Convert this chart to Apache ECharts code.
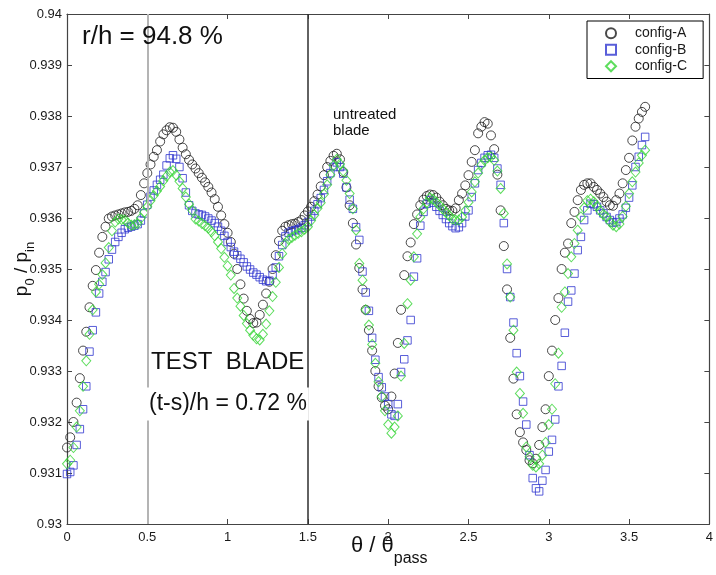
<!DOCTYPE html>
<html>
<head>
<meta charset="utf-8">
<script src="https://cdn.jsdelivr.net/npm/echarts@6/dist/echarts.min.js"></script>
<style>
  html, body { margin: 0; padding: 0; background: #fff; }
  #chart { width: 716px; height: 575px; }
</style>
</head>
<body>
<div id="chart"></div>
<script>
// Pitch-wise traverse positions (theta / theta_pass)
const theta = [
  0, 0.02, 0.04, 0.06, 0.08, 0.1, 0.12, 0.14, 0.16, 0.18,
  0.2, 0.22, 0.24, 0.26, 0.28, 0.3, 0.32, 0.34, 0.36, 0.38,
  0.4, 0.42, 0.44, 0.46, 0.48, 0.5, 0.52, 0.54, 0.56, 0.58,
  0.6, 0.62, 0.64, 0.66, 0.68, 0.7, 0.72, 0.74, 0.76, 0.78,
  0.8, 0.82, 0.84, 0.86, 0.88, 0.9, 0.92, 0.94, 0.96, 0.98,
  1, 1.02, 1.04, 1.06, 1.08, 1.1, 1.12, 1.14, 1.16, 1.18,
  1.2, 1.22, 1.24, 1.26, 1.28, 1.3, 1.32, 1.34, 1.36, 1.38,
  1.4, 1.42, 1.44, 1.46, 1.48, 1.5, 1.52, 1.54, 1.56, 1.58,
  1.6, 1.62, 1.64, 1.66, 1.68, 1.7, 1.72, 1.74, 1.76, 1.78,
  1.8, 1.82, 1.84, 1.86, 1.88, 1.9, 1.92, 1.94, 1.96, 1.98,
  2, 2.02, 2.04, 2.06, 2.08, 2.1, 2.12, 2.14, 2.16, 2.18,
  2.2, 2.22, 2.24, 2.26, 2.28, 2.3, 2.32, 2.34, 2.36, 2.38,
  2.4, 2.42, 2.44, 2.46, 2.48, 2.5, 2.52, 2.54, 2.56, 2.58,
  2.6, 2.62, 2.64, 2.66, 2.68, 2.7, 2.72, 2.74, 2.76, 2.78,
  2.8, 2.82, 2.84, 2.86, 2.88, 2.9, 2.92, 2.94, 2.96, 2.98,
  3, 3.02, 3.04, 3.06, 3.08, 3.1, 3.12, 3.14, 3.16, 3.18,
  3.2, 3.22, 3.24, 3.26, 3.28, 3.3, 3.32, 3.34, 3.36, 3.38,
  3.4, 3.42, 3.44, 3.46, 3.48, 3.5, 3.52, 3.54, 3.56, 3.58,
  3.6
];

// Total pressure ratio p0/pin, one value per traverse position
const configA = [
  0.93150, 0.93170, 0.93200, 0.93238, 0.93286, 0.93340, 0.93377, 0.93425, 0.93467, 0.93498,
  0.93532, 0.93563, 0.93583, 0.93599, 0.93603, 0.93605, 0.93607, 0.93609, 0.93611, 0.93612,
  0.93614, 0.93618, 0.93625, 0.93645, 0.93668, 0.93688, 0.93705, 0.93720, 0.93733, 0.93750,
  0.93764, 0.93772, 0.93778, 0.93777, 0.93769, 0.93754, 0.93738, 0.93725, 0.93714, 0.93705,
  0.93697, 0.93688, 0.93679, 0.93670, 0.93661, 0.93650, 0.93637, 0.93622, 0.93605, 0.93588,
  0.93571, 0.93553, 0.93530, 0.93500, 0.93470, 0.93442, 0.93418, 0.93402, 0.93394, 0.93395,
  0.93410, 0.93430, 0.93452, 0.93475, 0.93500, 0.93527, 0.93555, 0.93575, 0.93583, 0.93586,
  0.93588, 0.93589, 0.93592, 0.93596, 0.93605, 0.93613, 0.93622, 0.93633, 0.93646, 0.93662,
  0.93684, 0.93700, 0.93712, 0.93722, 0.93726, 0.93715, 0.93690, 0.93660, 0.93625, 0.93590,
  0.93548, 0.93502, 0.93460, 0.93420, 0.93380, 0.93340, 0.93300, 0.93270, 0.93248, 0.93232,
  0.93225, 0.93250, 0.93295, 0.93355, 0.93420, 0.93488, 0.93525, 0.93552, 0.93588, 0.93607,
  0.93625, 0.93636, 0.93643, 0.93646, 0.93645, 0.93640, 0.93632, 0.93625, 0.93618, 0.93615,
  0.93614, 0.93619, 0.93635, 0.93648, 0.93664, 0.93684, 0.93710, 0.93733, 0.93766, 0.93779,
  0.93788, 0.93785, 0.93762, 0.93735, 0.93685, 0.93615, 0.93545, 0.93460, 0.93365, 0.93285,
  0.93215, 0.93180, 0.93160, 0.93145, 0.93125, 0.93119, 0.93128, 0.93155, 0.93190, 0.93225,
  0.93290, 0.93340, 0.93400, 0.93443, 0.93500, 0.93532, 0.93550, 0.93590, 0.93612, 0.93635,
  0.93655, 0.93665, 0.93668, 0.93668, 0.93661, 0.93655, 0.93648, 0.93641, 0.93632, 0.93625,
  0.93624, 0.93635, 0.93648, 0.93668, 0.93694, 0.93718, 0.93752, 0.93779, 0.93795, 0.93808,
  0.93818
];

const configB = [
  0.93098, 0.93102, 0.93115, 0.93155, 0.93186, 0.93225, 0.93270, 0.93338, 0.93380, 0.93415,
  0.93452, 0.93475, 0.93494, 0.93519, 0.93538, 0.93553, 0.93563, 0.93571, 0.93578, 0.93581,
  0.93583, 0.93585, 0.93588, 0.93595, 0.93609, 0.93626, 0.93642, 0.93654, 0.93665, 0.93675,
  0.93685, 0.93703, 0.93717, 0.93723, 0.93716, 0.93700, 0.93678, 0.93650, 0.93625, 0.93614,
  0.93609, 0.93607, 0.93606, 0.93603, 0.93599, 0.93595, 0.93590, 0.93583, 0.93575, 0.93565,
  0.93553, 0.93543, 0.93534, 0.93527, 0.93520, 0.93513, 0.93505, 0.93499, 0.93493, 0.93489,
  0.93484, 0.93479, 0.93476, 0.93477, 0.93488, 0.93503, 0.93525, 0.93547, 0.93564, 0.93571,
  0.93574, 0.93576, 0.93578, 0.93581, 0.93586, 0.93592, 0.93603, 0.93614, 0.93627, 0.93639,
  0.93655, 0.93672, 0.93688, 0.93700, 0.93709, 0.93700, 0.93687, 0.93660, 0.93636, 0.93618,
  0.93582, 0.93557, 0.93495, 0.93454, 0.93418, 0.93365, 0.93322, 0.93288, 0.93268, 0.93250,
  0.93235, 0.93215, 0.93212, 0.93235, 0.93298, 0.93323, 0.93360, 0.93400, 0.93485, 0.93521,
  0.93585, 0.93612, 0.93628, 0.93635, 0.93630, 0.93622, 0.93614, 0.93606, 0.93598, 0.93590,
  0.93584, 0.93580, 0.93582, 0.93590, 0.93603, 0.93615, 0.93641, 0.93668, 0.93694, 0.93708,
  0.93718, 0.93723, 0.93724, 0.93718, 0.93697, 0.93665, 0.93590, 0.93500, 0.93445, 0.93395,
  0.93335, 0.93290, 0.93240, 0.93195, 0.93135, 0.93090, 0.93070, 0.93064, 0.93085, 0.93106,
  0.93142, 0.93165, 0.93205, 0.93270, 0.93310, 0.93375, 0.93436, 0.93458, 0.93491, 0.93537,
  0.93563, 0.93596, 0.93615, 0.93628, 0.93627, 0.93622, 0.93615, 0.93609, 0.93602, 0.93596,
  0.93591, 0.93592, 0.93599, 0.93607, 0.93620, 0.93640, 0.93664, 0.93700, 0.93720, 0.93743,
  0.93759
];

const configC = [
  0.93118, 0.93125, 0.93150, 0.93190, 0.93222, 0.93270, 0.93320, 0.93372, 0.93420, 0.93455,
  0.93470, 0.93489, 0.93512, 0.93542, 0.93575, 0.93592, 0.93598, 0.93597, 0.93596, 0.93590,
  0.93586, 0.93587, 0.93589, 0.93600, 0.93611, 0.93622, 0.93634, 0.93644, 0.93653, 0.93662,
  0.93673, 0.93682, 0.93690, 0.93693, 0.93684, 0.93672, 0.93658, 0.93641, 0.93627, 0.93615,
  0.93598, 0.93594, 0.93589, 0.93585, 0.93580, 0.93573, 0.93565, 0.93553, 0.93540, 0.93523,
  0.93506, 0.93488, 0.93462, 0.93443, 0.93427, 0.93409, 0.93393, 0.93380, 0.93370, 0.93363,
  0.93361, 0.93372, 0.93392, 0.93418, 0.93446, 0.93474, 0.93503, 0.93530, 0.93550, 0.93558,
  0.93562, 0.93566, 0.93570, 0.93573, 0.93578, 0.93583, 0.93595, 0.93606, 0.93619, 0.93630,
  0.93647, 0.93665, 0.93685, 0.93703, 0.93715, 0.93706, 0.93692, 0.93674, 0.93648, 0.93618,
  0.93576, 0.93511, 0.93478, 0.93420, 0.93390, 0.93352, 0.93315, 0.93279, 0.93250, 0.93222,
  0.93195, 0.93178, 0.93190, 0.93212, 0.93290, 0.93354, 0.93432, 0.93478, 0.93524, 0.93569,
  0.93602, 0.93618, 0.93630, 0.93640, 0.93637, 0.93631, 0.93625, 0.93618, 0.93611, 0.93605,
  0.93598, 0.93596, 0.93596, 0.93602, 0.93614, 0.93631, 0.93651, 0.93671, 0.93688, 0.93704,
  0.93713, 0.93718, 0.93720, 0.93713, 0.93692, 0.93658, 0.93609, 0.93510, 0.93445, 0.93380,
  0.93298, 0.93256, 0.93217, 0.93151, 0.93132, 0.93115, 0.93112, 0.93118, 0.93135, 0.93160,
  0.93195, 0.93225, 0.93275, 0.93335, 0.93425, 0.93455, 0.93491, 0.93524, 0.93550, 0.93576,
  0.93602, 0.93620, 0.93634, 0.93637, 0.93632, 0.93623, 0.93614, 0.93607, 0.93602, 0.93593,
  0.93586, 0.93583, 0.93588, 0.93603, 0.93623, 0.93648, 0.93671, 0.93690, 0.93708, 0.93723,
  0.93733
];

const seriesNames = ['config-A', 'config-B', 'config-C'];
const bladeLines = [0.5, 1.5];   // test-blade passage boundaries

const FONT = '"Liberation Sans", Arial, Helvetica, sans-serif';
const AXIS_COLOR = '#444';
const TEXT_COLOR = '#1a1a1a';

const pairs = ys => theta.map((x, i) => [x, ys[i]]);

const frameAxis = (extra) => Object.assign({
  type: 'value',
  axisLine: { show: true, onZero: false, lineStyle: { color: AXIS_COLOR, width: 1.2 } },
  axisTick: { show: true, inside: true, length: 5, lineStyle: { color: AXIS_COLOR, width: 1 } },
  splitLine: { show: false }
}, extra);

const chart = echarts.init(document.getElementById('chart'), null, { renderer: 'canvas' });

const option = {
  animation: false,
  backgroundColor: '#fff',
  grid: { left: 67, right: 2, top: 14, bottom: 51, containLabel: false },
  xAxis: [
    frameAxis({
      min: 0, max: 4, interval: 0.5, position: 'bottom',
      axisLabel: {
        margin: 7, fontSize: 13, color: TEXT_COLOR, fontFamily: FONT,
        formatter: v => String(+v.toFixed(1))
      }
    }),
    frameAxis({
      min: 0, max: 4, interval: 0.5, position: 'top',
      axisLabel: { show: false }
    })
  ],
  yAxis: [
    frameAxis({
      min: 0.93, max: 0.94, interval: 0.001, position: 'left',
      axisLabel: {
        margin: 5, fontSize: 13, color: TEXT_COLOR, fontFamily: FONT,
        formatter: v => String(+v.toFixed(3))
      }
    }),
    frameAxis({
      min: 0.93, max: 0.94, interval: 0.001, position: 'right',
      axisLabel: { show: false }
    })
  ],
  legend: {
    orient: 'vertical',
    left: 587, top: 21,
    padding: [4, 16, 4, 18],
    itemWidth: 10, itemHeight: 10, itemGap: 0,
    borderColor: '#000', borderWidth: 1, backgroundColor: '#fff',
    selectedMode: false,
    textStyle: {
      fontSize: 14, color: TEXT_COLOR, fontFamily: FONT,
      lineHeight: 16.5, padding: [0, 0, 0, 14]
    },
    data: seriesNames
  },
  series: [
    {
      name: seriesNames[0], type: 'scatter', data: pairs(configA),
      symbol: 'circle', symbolSize: 9,
      itemStyle: { color: 'rgba(255,255,255,0)', borderColor: '#1c1c1c', borderWidth: 1 },
      emphasis: { disabled: true },
      markLine: {
        silent: true, symbol: 'none', label: { show: false },
        data: [
          { xAxis: bladeLines[0], lineStyle: { color: '#b4b4b4', width: 2, type: 'solid' } },
          { xAxis: bladeLines[1], lineStyle: { color: '#2e2e2e', width: 1.5, type: 'solid' } }
        ]
      }
    },
    {
      name: seriesNames[1], type: 'scatter', data: pairs(configB),
      symbol: 'rect', symbolSize: 7.5,
      itemStyle: { color: 'rgba(255,255,255,0)', borderColor: '#2f36d0', borderWidth: 1 },
      emphasis: { disabled: true }
    },
    {
      name: seriesNames[2], type: 'scatter', data: pairs(configC),
      symbol: 'diamond', symbolSize: [9, 10],
      itemStyle: { color: 'rgba(255,255,255,0)', borderColor: '#35d435', borderWidth: 1 },
      emphasis: { disabled: true }
    }
  ],
  graphic: [
    {
      type: 'text', z: 100, x: 82, y: 37,
      style: { text: 'r/h = 94.8 %', fontSize: 26, fontFamily: FONT, fill: '#111',
               align: 'left', verticalAlign: 'middle' }
    },
    {
      type: 'text', z: 100, x: 151, y: 362,
      style: { text: 'TEST  BLADE', fontSize: 24, fontFamily: FONT, fill: '#111',
               align: 'left', verticalAlign: 'middle' }
    },
    {
      type: 'text', z: 100, x: 147, y: 404,
      style: { text: '(t-s)/h = 0.72 %', fontSize: 23, fontFamily: FONT, fill: '#111',
               align: 'left', verticalAlign: 'middle',
               backgroundColor: '#fff', padding: [10, 2, 0, 2] }
    },
    {
      type: 'text', z: 100, x: 333, y: 123,
      style: { text: 'untreated\nblade', fontSize: 15, lineHeight: 15.5, fontFamily: FONT,
               fill: '#111', align: 'left', verticalAlign: 'middle' }
    },
    {
      // y-axis title: p0 / pin
      type: 'text', z: 100, x: 22, y: 269, rotation: Math.PI / 2,
      style: {
        text: '{m|p}{s|0}{m| / p}{s|in}',
        align: 'center', verticalAlign: 'middle',
        rich: {
          m: { fontSize: 19, lineHeight: 19, fontFamily: FONT, fill: '#111', verticalAlign: 'top' },
          s: { fontSize: 13, lineHeight: 13, fontFamily: FONT, fill: '#111', verticalAlign: 'top', padding: [11, 0, 0, 0] }
        }
      }
    },
    {
      // x-axis title: theta / theta_pass
      type: 'text', z: 100, x: 351, y: 535,
      style: {
        text: '{m|θ / θ}{s|pass}',
        align: 'left', verticalAlign: 'top',
        rich: {
          m: { fontSize: 22, lineHeight: 22, fontFamily: FONT, fill: '#111', verticalAlign: 'top' },
          s: { fontSize: 16, lineHeight: 16, fontFamily: FONT, fill: '#111', verticalAlign: 'top', padding: [16, 0, 0, 0] }
        }
      }
    }
  ]
};

chart.setOption(option);
</script>
</body>
</html>
